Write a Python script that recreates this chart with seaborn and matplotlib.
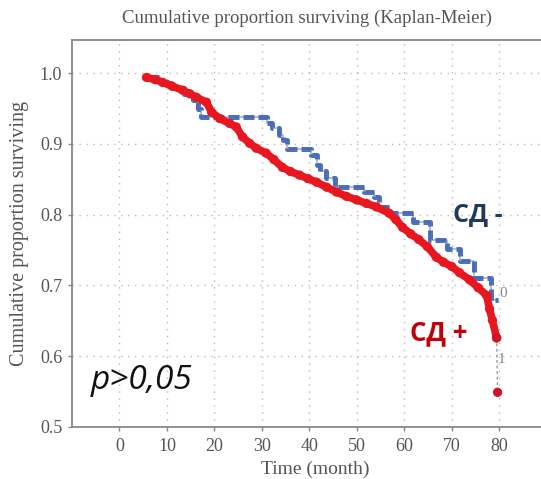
import numpy as np
import pandas as pd
import matplotlib
matplotlib.use("Agg")
import matplotlib.pyplot as plt
import seaborn as sns

# ---- data ----
title = "Cumulative proportion surviving (Kaplan-Meier)"
xlabel = "Time (month)"
ylabel = "Cumulative proportion surviving"
xticks = [0, 10, 20, 30, 40, 50, 60, 70, 80]
yticks = [0.5, 0.6, 0.7, 0.8, 0.9, 1.0]

# СД - (no diabetes) – blue step curve
blue_t = [6.0, 8.5, 11.0, 13.5, 15.5, 16.5, 17.2, 31.0, 32.2, 33.5, 34.5, 35.3,
          40.3, 41.5, 42.2, 43.5, 45.3, 51.5, 53.5, 54.6, 56.8, 61.7, 65.3,
          69.0, 71.6, 74.7, 78.3, 79.6]
blue_s = [0.994, 0.987, 0.979, 0.971, 0.962, 0.950, 0.938, 0.930, 0.922, 0.913,
          0.905, 0.893, 0.884, 0.870, 0.862, 0.852, 0.839, 0.832, 0.825, 0.811,
          0.802, 0.790, 0.764, 0.751, 0.734, 0.710, 0.680, 0.680]

# СД + (diabetes) – red curve
red_t = [5.7, 7.5, 9.1, 11.0, 13.3, 14.8, 16.2, 18.3, 19.4, 21.1, 23.2, 24.6,
         25.9, 27.4, 28.8, 30.9, 32.5, 34.3, 36.0, 37.9, 39.7, 41.5, 43.6, 45.7,
         47.8, 49.9, 52.0, 54.1, 56.8, 58.2, 59.6, 61.3, 63.0, 64.8, 66.7, 68.2,
         69.9, 71.6, 73.7, 75.5, 77.3, 77.9, 78.5, 79.4]
red_s = [0.994, 0.991, 0.987, 0.982, 0.976, 0.971, 0.966, 0.959, 0.945, 0.936,
         0.929, 0.924, 0.910, 0.901, 0.894, 0.887, 0.878, 0.867, 0.861, 0.856,
         0.851, 0.846, 0.839, 0.832, 0.826, 0.821, 0.816, 0.811, 0.802, 0.793,
         0.782, 0.773, 0.765, 0.755, 0.740, 0.733, 0.727, 0.718, 0.708, 0.697,
         0.686, 0.667, 0.651, 0.626]
red_tail_t = [79.4, 79.6]
red_tail_s = [0.626, 0.549]

# labels at curve ends
end_labels = ["0", "1"]
end_label_t = [80.0, 79.6]
end_label_s = [0.689, 0.595]

group_labels = ["СД -", "СД +"]
p_text = "p>0,05"

# ---- figure ----
sns.set_theme(style="white")
plt.rcParams["font.family"] = ["Liberation Serif", "DejaVu Serif"]

fig = plt.figure(figsize=(5.41, 4.79), dpi=100)
ax = fig.add_axes([0.133, 0.1086, 0.90, 0.808])

blue_df = pd.DataFrame({"t": blue_t, "s": blue_s})
red_df = pd.DataFrame({"t": red_t, "s": red_s})
tail_df = pd.DataFrame({"t": red_tail_t, "s": red_tail_s})

blue_c = "#3e62b6"
red_c = "#e8161f"

sns.lineplot(data=blue_df, x="t", y="s", ax=ax, drawstyle="steps-post",
             color="#9fb2d8", lw=1.2, estimator=None, sort=False, zorder=2)
sns.lineplot(data=blue_df, x="t", y="s", ax=ax, drawstyle="steps-post",
             color=blue_c, lw=3.6, alpha=0.9, estimator=None, sort=False,
             zorder=3, linestyle=(0, (2.2, 0.8)))
sns.lineplot(data=red_df, x="t", y="s", ax=ax, color=red_c, lw=5.5,
             estimator=None, sort=False, zorder=4, solid_capstyle="round")
sns.scatterplot(data=red_df, x="t", y="s", ax=ax, color=red_c, s=45,
                edgecolor="none", zorder=5)
sns.lineplot(data=tail_df, x="t", y="s", ax=ax, color="#999999", lw=1,
             linestyle=(0, (2, 2)), estimator=None, sort=False, zorder=3)
sns.scatterplot(data=tail_df, x="t", y="s", ax=ax, color="#d0142a", s=45,
                edgecolor="none", zorder=5)

for lab, t, s in zip(end_labels, end_label_t, end_label_s):
    ax.text(t, s, lab, fontsize=11, color="#888888", ha="left", va="center",
            zorder=6)

ax.set_xlim(-10, 92.5)
ax.set_ylim(0.5, 1.047)
ax.set_xticks(xticks)
ax.set_yticks(yticks)
ax.set_xticklabels([str(v) for v in xticks])
ax.set_yticklabels([f"{v:.1f}" for v in yticks])
ax.tick_params(axis="both", labelsize=13, labelcolor="#555555",
               color="#888888", length=3, width=1, direction="out",
               left=True, bottom=True)
ax.tick_params(axis="x", pad=5)
ax.tick_params(axis="y", pad=4)
ax.grid(True, linestyle=(0, (1, 4)), color="#bbbbbb", lw=1)

for side in ["left", "bottom", "top"]:
    ax.spines[side].set_color("#888888")
    ax.spines[side].set_linewidth(1.3)
ax.spines["right"].set_visible(False)

ax.set_xlabel(xlabel, fontsize=14, color="#555555", labelpad=4)
ax.set_ylabel(ylabel, fontsize=14.5, color="#555555", labelpad=8)
fig.text(0.568, 0.962, title, fontsize=13.5, color="#555555", ha="center",
         va="center")

ax.text(0.838, 0.553, group_labels[0], transform=fig.transFigure,
        fontsize=18, fontweight="bold", color="#1f3a5c", ha="left",
        va="center", family=["Open Sans", "DejaVu Sans"])
ax.text(0.757, 0.305, group_labels[1], transform=fig.transFigure,
        fontsize=18.5, fontweight="bold", color="#c0000b", ha="left",
        va="center", family=["Open Sans", "DejaVu Sans"])
ax.text(0.168, 0.205, p_text, transform=fig.transFigure, fontsize=24,
        fontstyle="italic", color="#111111", ha="left", va="center",
        family=["Open Sans", "DejaVu Sans"])

fig.savefig("out.png", dpi=100)
